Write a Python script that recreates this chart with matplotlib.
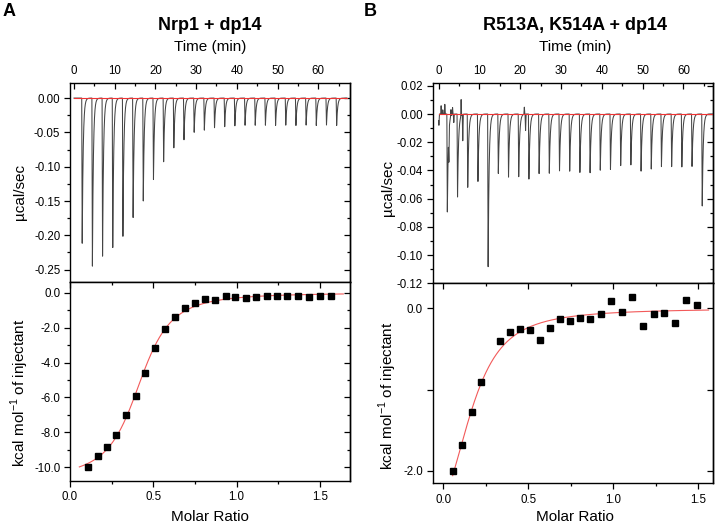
import numpy as np
import matplotlib as mpl
mpl.use('Agg')
import matplotlib.pyplot as plt
from matplotlib.ticker import MultipleLocator, FormatStrFormatter, FixedLocator

plt.rcParams['font.family'] = ['Liberation Sans', 'DejaVu Sans']
plt.rcParams['mathtext.fontset'] = 'custom'
plt.rcParams['mathtext.rm'] = 'Liberation Sans'
plt.rcParams['axes.unicode_minus'] = False

# ---- panel A: Nrp1 + dp14 ----
a_inj_time = [1.9, 4.4, 6.9, 9.4, 11.9, 14.4, 16.9, 19.4, 21.9, 24.4, 26.9, 29.4, 31.9,
              34.4, 36.9, 39.4, 41.9, 44.4, 46.9, 49.4, 51.9, 54.4, 56.9, 59.4, 61.9, 64.4]
a_inj_depth = [0.214, 0.248, 0.232, 0.221, 0.202, 0.177, 0.150, 0.121, 0.093, 0.074, 0.061,
               0.051, 0.047, 0.044, 0.042, 0.041, 0.040, 0.040, 0.040, 0.040, 0.040, 0.040,
               0.040, 0.040, 0.040, 0.040]
a_ratio = [0.110, 0.166, 0.224, 0.278, 0.336, 0.394, 0.452, 0.510, 0.568, 0.628, 0.688, 0.750,
           0.812, 0.872, 0.934, 0.992, 1.056, 1.116, 1.180, 1.242, 1.304, 1.368, 1.432, 1.500, 1.566]
a_heat = [-10.0, -9.35, -8.82, -8.13, -6.98, -5.90, -4.62, -3.15, -2.08, -1.39, -0.90, -0.57,
          -0.38, -0.40, -0.17, -0.23, -0.29, -0.23, -0.19, -0.21, -0.19, -0.19, -0.25, -0.17, -0.21]

# ---- panel B: R513A, K514A + dp14 ----
b_inj_time = [2.0, 4.5, 7.0, 9.5, 12.0, 14.5, 17.0, 19.5, 22.0, 24.5, 27.0, 29.5, 32.0,
              34.5, 37.0, 39.5, 42.0, 44.5, 47.0, 49.5, 52.0, 54.5, 57.0, 59.5, 62.0, 64.5]
b_inj_depth = [0.0695, 0.0593, 0.0529, 0.0488, 0.110, 0.0426, 0.0450, 0.0445, 0.0464, 0.0429,
               0.0429, 0.0410, 0.0410, 0.0417, 0.0417, 0.0400, 0.0398, 0.0374, 0.0367, 0.0410,
               0.0393, 0.0374, 0.0374, 0.0380, 0.0380, 0.0664]
# small artefacts on the B baseline (time, signed height)
b_glitch_time = [0.05, 0.6, 1.0, 1.5, 2.5, 3.0, 3.4, 3.7, 5.5, 5.9, 21.0, 21.3]
b_glitch_amp = [-0.008, 0.006, 0.003, 0.007, -0.020, 0.005, 0.005, -0.006, 0.012, -0.019, 0.005, -0.012]
b_ratio = [0.057, 0.112, 0.169, 0.224, 0.335, 0.394, 0.451, 0.510, 0.569, 0.627, 0.686, 0.745,
           0.806, 0.865, 0.927, 0.988, 1.051, 1.112, 1.175, 1.237, 1.300, 1.363, 1.429, 1.494]
b_heat = [-1.996, -1.684, -1.275, -0.910, -0.402, -0.291, -0.254, -0.266, -0.393, -0.242, -0.131,
          -0.152, -0.119, -0.135, -0.070, 0.086, -0.041, 0.135, -0.217, -0.066, -0.061, -0.184,
          0.107, 0.041]

TRACE = '#444444'
RED = '#ee3434'
FIT = '#f25a5a'


def thermogram(t, times, depths, g_times=(), g_amps=()):
    y = np.zeros_like(t)
    fall, tau = 0.12, 0.24
    for t0, d in zip(times, depths):
        m1 = (t >= t0) & (t < t0 + fall)
        y[m1] -= d * (t[m1] - t0) / fall
        m2 = t >= t0 + fall
        y[m2] -= d * np.exp(-(t[m2] - t0 - fall) / tau)
    for t0, a in zip(g_times, g_amps):
        y += a * np.clip(1 - np.abs(t - t0) / 0.12, 0, None)
    return y


def one_site(x, n, dh, c):
    xr = x / n
    r = 1.0 / c
    return dh * (0.5 + (1 - xr - r) / (2 * np.sqrt((1 + xr + r) ** 2 - 4 * xr)))


def fit_one_site(x, y, n_grid, dh_grid, logc_grid):
    x = np.asarray(x); y = np.asarray(y)
    N, DH = np.meshgrid(n_grid, dh_grid, indexing='ij')
    best, params = np.inf, None
    for lc in logc_grid:
        pred = one_site(x[None, None, :], N[..., None], DH[..., None], 10 ** lc)
        sse = ((pred - y) ** 2).sum(-1)
        i = np.unravel_index(np.argmin(sse), sse.shape)
        if sse[i] < best:
            best, params = sse[i], (N[i], DH[i], 10 ** lc)
    return params


def style_axis(ax):
    ax.tick_params(which='both', labelsize=8.3, width=0.9, color='black')
    ax.tick_params(which='major', length=4.5)
    ax.tick_params(which='minor', length=2.5)
    for s in ax.spines.values():
        s.set_linewidth(1.0)


def add_right_ticks(ax, major, minor):
    sec = ax.secondary_yaxis('right')
    sec.yaxis.set_major_locator(major)
    if minor is not None:
        sec.yaxis.set_minor_locator(minor)
    sec.tick_params(which='both', direction='in', labelright=False, width=0.9)
    sec.tick_params(which='major', length=4.5)
    sec.tick_params(which='minor', length=2.5)
    sec.spines['right'].set_linewidth(1.0)


def add_top_ticks(ax, major, minor):
    sec = ax.secondary_xaxis('top')
    sec.xaxis.set_major_locator(major)
    sec.xaxis.set_minor_locator(minor)
    sec.tick_params(which='both', direction='in', labeltop=False, width=0.9)
    sec.tick_params(which='major', length=4.5)
    sec.tick_params(which='minor', length=2.5)


def raw_panel(ax, t, y, xlim, ylim, ystep, yminor):
    ax.plot(t, y, color=TRACE, lw=0.75)
    ax.plot([t[0], t[-1]], [0, 0], color=RED, lw=0.8)
    ax.set_xlim(*xlim)
    ax.set_ylim(*ylim)
    ax.xaxis.tick_top()
    ax.xaxis.set_major_locator(MultipleLocator(10))
    ax.xaxis.set_minor_locator(MultipleLocator(5))
    ax.tick_params(axis='x', which='both', direction='in', top=True, bottom=False, pad=4)
    ax.yaxis.set_major_locator(MultipleLocator(ystep))
    ax.yaxis.set_minor_locator(MultipleLocator(yminor))
    ax.yaxis.set_major_formatter(FormatStrFormatter('%.2f'))
    ax.tick_params(axis='y', which='both', direction='out', left=True, right=False, pad=2.5)
    style_axis(ax)
    add_right_ticks(ax, MultipleLocator(ystep), MultipleLocator(yminor))


def heat_panel(ax, x, y, fit, xlim, ylim, yticks, ylabels, yminor):
    xf = np.linspace(fit[0], fit[1], 400)
    ax.plot(xf, one_site(xf, *fit[2]), color=FIT, lw=0.8, zorder=2)
    ax.plot(x, y, 's', color='black', ms=4.6, zorder=3)
    ax.set_xlim(*xlim)
    ax.set_ylim(*ylim)
    ax.xaxis.set_major_locator(MultipleLocator(0.5))
    ax.xaxis.set_minor_locator(MultipleLocator(0.25))
    ax.xaxis.set_major_formatter(FormatStrFormatter('%.1f'))
    ax.set_yticks(yticks)
    ax.set_yticklabels(ylabels)
    if yminor is not None:
        ax.yaxis.set_minor_locator(MultipleLocator(yminor))
    ax.tick_params(which='both', direction='out', top=False, right=False)
    ax.tick_params(axis='x', pad=3)
    ax.tick_params(axis='y', pad=2.5)
    style_axis(ax)
    add_right_ticks(ax, FixedLocator(yticks), MultipleLocator(yminor) if yminor else None)
    add_top_ticks(ax, MultipleLocator(0.5), MultipleLocator(0.25))


W, H = 719, 528
fig = plt.figure(figsize=(W / 100, H / 100), dpi=100)


def axes_px(x0, y0, x1, y1):
    return fig.add_axes([x0 / W, 1 - y1 / H, (x1 - x0) / W, (y1 - y0) / H])


# panel A
axA1 = axes_px(70, 83, 350, 282)
axA2 = axes_px(70, 282, 350, 481)
tA = np.linspace(0.0, 67.0, 8000)
raw_panel(axA1, tA, thermogram(tA, a_inj_time, a_inj_depth), (-0.98, 67.8), (-0.268, 0.022), 0.05, 0.025)
fitA = fit_one_site(a_ratio, a_heat, np.arange(0.35, 0.6, 0.005), np.arange(-13, -8, 0.05), np.arange(0.5, 3.5, 0.05))
heat_panel(axA2, a_ratio, a_heat, (0.056, 1.64, fitA), (0, 1.68), (-10.78, 0.61),
           [0, -2, -4, -6, -8, -10], ['0.0', '-2.0', '-4.0', '-6.0', '-8.0', '-10.0'], 1.0)

# panel B
axB1 = axes_px(432.7, 83, 713, 283.3)
axB2 = axes_px(432.7, 283.3, 713, 483.3)
tB = np.linspace(0.0, 67.3, 8000)
raw_panel(axB1, tB, thermogram(tB, b_inj_time, b_inj_depth, b_glitch_time, b_glitch_amp),
          (-1.47, 67.26), (-0.12, 0.022), 0.02, 0.01)
fitB = fit_one_site(b_ratio, b_heat, np.arange(0.05, 0.6, 0.005), np.arange(-20, -1, 0.1), np.arange(-1, 3, 0.05))
heat_panel(axB2, b_ratio, b_heat, (0.055, 1.56, fitB), (-0.0624, 1.586), (-2.152, 0.307),
           [0, -1, -2], ['0.0', '', '-2.0'], None)

# axis labels & titles
for cx, ylab1, ylab2, xl, title, letter, lx in [
        (20, 192, 393, 210, 'Nrp1 + dp14', 'A', 3),
        (388, 188, 396, 575, 'R513A, K514A + dp14', 'B', 364)]:
    fig.text(cx / W, 1 - ylab1 / H, 'µcal/sec', rotation=90, ha='center', va='center', fontsize=11)
    fig.text(cx / W, 1 - ylab2 / H, 'kcal mol$^{-1}$ of injectant', rotation=90, ha='center', va='center', fontsize=11)
    fig.text(xl / W, 1 - 29.5 / H, title, ha='center', va='baseline', fontsize=13, fontweight='bold')
    fig.text(xl / W, 1 - 50.5 / H, 'Time (min)', ha='center', va='baseline', fontsize=11)
    fig.text(xl / W, 1 - 521 / H, 'Molar Ratio', ha='center', va='baseline', fontsize=11)
    fig.text(lx / W, 1 - 16 / H, letter, ha='left', va='baseline', fontsize=13, fontweight='bold')

fig.savefig('out.png', dpi=100)
